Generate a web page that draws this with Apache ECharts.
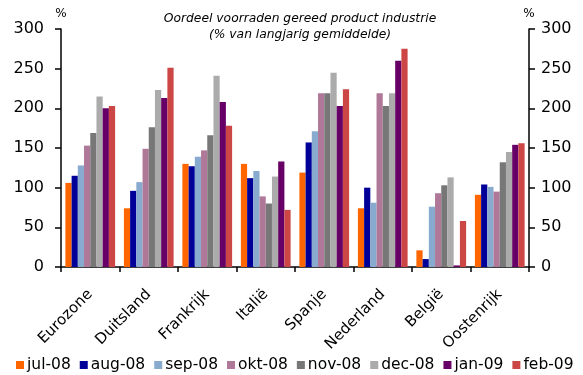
<!DOCTYPE html>
<html>
<head>
<meta charset="utf-8">
<script src="https://cdn.jsdelivr.net/npm/echarts@6/dist/echarts.min.js"></script>
<style>
  html, body { margin: 0; padding: 0; background: #fff; }
  #chart { width: 583px; height: 375px; }
</style>
</head>
<body>
<div id="chart"></div>
<script>
// Landen op de categorie-as
const countries = ['Eurozone', 'Duitsland', 'Frankrijk', 'Italië', 'Spanje', 'Nederland', 'België', 'Oostenrijk'];

// Maanden (reeksen) en hun kleuren
const months = ['jul-08', 'aug-08', 'sep-08', 'okt-08', 'nov-08', 'dec-08', 'jan-09', 'feb-09'];
const monthColors = ['#FF6600', '#000099', '#88AACF', '#B07898', '#777777', '#ABABAB', '#660066', '#CC4646'];

// Oordeel voorraden per maand, in % van langjarig gemiddelde (volgorde = countries)
const jul08 = [106, 74, 130, 130, 119, 74, 21, 91];
const aug08 = [115, 96, 127, 112, 157, 100, 10, 104];
const sep08 = [128, 107, 139, 121, 171, 81, 76, 101];
const okt08 = [153, 149, 147, 89, 219, 219, 93, 95];
const nov08 = [169, 176, 166, 80, 219, 203, 103, 132];
const dec08 = [215, 223, 241, 114, 245, 219, 113, 145];
const jan09 = [200, 213, 208, 133, 203, 260, 2, 154];
const feb09 = [203, 251, 178, 72, 224, 275, 58, 156];

const seriesValues = [jul08, aug08, sep08, okt08, nov08, dec08, jan09, feb09];

// Tickwaarden van de y-assen
const yMin = 0, yMax = 300, yStep = 50;

const axisFont = 'DejaVu Sans';

function valueAxis(side) {
  return {
    type: 'value',
    position: side,
    min: yMin, max: yMax, interval: yStep,
    name: '%',
    nameLocation: 'end',
    nameGap: 9,
    nameTextStyle: { color: '#000', fontSize: 12, fontFamily: axisFont, align: 'center' },
    axisLine: { show: true, lineStyle: { color: '#000', width: 1.5 } },
    axisTick: { show: true, length: 6, lineStyle: { color: '#000', width: 1.5 } },
    axisLabel: { color: '#000', fontSize: 16, fontFamily: axisFont, margin: side === 'left' ? 17 : 12 },
    splitLine: { show: false }
  };
}

const chart = echarts.init(document.getElementById('chart'), null, { renderer: 'canvas' });

chart.setOption({
  animation: false,
  backgroundColor: '#fff',
  title: {
    text: 'Oordeel voorraden gereed product industrie\n(% van langjarig gemiddelde)',
    left: 295, top: 6,
    textAlign: 'center',
    textStyle: { fontSize: 12.3, fontStyle: 'italic', fontWeight: 'normal', fontFamily: axisFont, color: '#000', lineHeight: 16 }
  },
  legend: {
    data: months,
    left: 11, right: 0, top: 352,
    icon: 'rect',
    itemWidth: 8, itemHeight: 8,
    itemGap: 9,
    textStyle: { fontSize: 15.5, fontFamily: axisFont, color: '#000', padding: [0, 0, 0, -2] }
  },
  grid: { left: 61, right: 54, top: 29, bottom: 108, containLabel: false, outerBoundsMode: 'none' },
  xAxis: {
    type: 'category',
    data: countries,
    axisLine: { show: true, lineStyle: { color: '#000', width: 1.5 } },
    axisTick: { show: true, length: 5, alignWithLabel: false, lineStyle: { color: '#000', width: 1.5 } },
    axisLabel: { rotate: 45, color: '#000', fontSize: 15, fontFamily: axisFont, margin: 25, interval: 0 }
  },
  yAxis: [valueAxis('left'), valueAxis('right')],
  series: months.map((m, i) => ({
    name: m,
    type: 'bar',
    data: seriesValues[i],
    barGap: '0%',
    barCategoryGap: '15%',
    itemStyle: { color: monthColors[i] }
  }))
});
</script>
</body>
</html>
